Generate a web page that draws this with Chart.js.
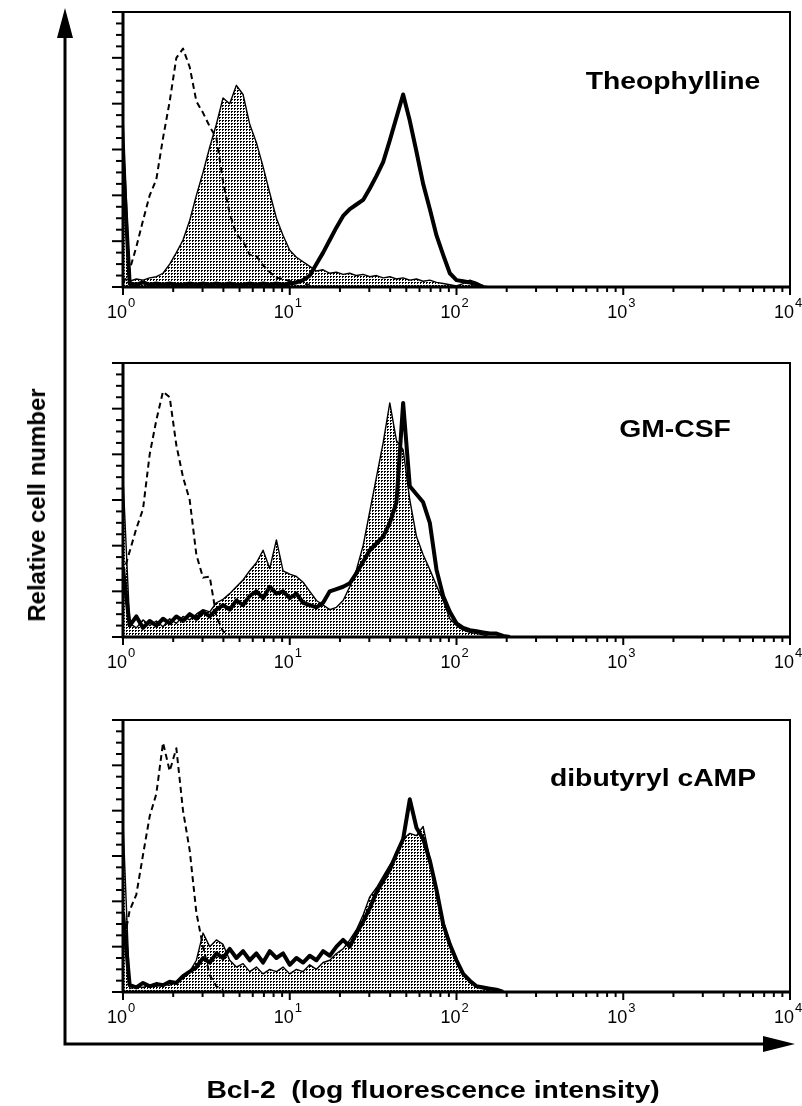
<!DOCTYPE html>
<html>
<head>
<meta charset="utf-8">
<title>Bcl-2 histograms</title>
<script src="https://cdn.jsdelivr.net/npm/chart.js@4.4.1/dist/chart.umd.min.js"></script>
<style>
  body { margin: 0; background: #fff; }
  #page { position: relative; width: 802px; height: 1106px; overflow: hidden;
          font-family: "Liberation Sans", Arial, Helvetica, sans-serif; }
  #page canvas { position: absolute; left: 0; top: 0; }
  .lbl { position: absolute; font-weight: bold; font-size: 24px; line-height: 1;
         color: #000; white-space: pre; transform: translate(-50%, -50%) scaleX(1.18); }
  .ylbl { transform: translate(-50%, -50%) rotate(-90deg); }
</style>
</head>
<body>
<div id="page">
  <canvas id="p1" width="802" height="1106"></canvas>
  <canvas id="p2" width="802" height="1106"></canvas>
  <canvas id="p3" width="802" height="1106"></canvas>
  <div class="lbl" style="left:673px;top:81px">Theophylline</div>
  <div class="lbl" style="left:675px;top:429px">GM-CSF</div>
  <div class="lbl" style="left:653px;top:778px">dibutyryl cAMP</div>
  <div class="lbl ylbl" style="left:37px;top:505px">Relative cell number</div>
  <div class="lbl" style="left:433px;top:1090px">Bcl-2  (log fluorescence intensity)</div>
</div>
<script>
// channel bins: each step is 0.04 log10 units, starting at 10^0
const BIN_WIDTH = 0.04;

// axis ticks
const xDecades = [0, 1, 2, 3, 4];
const xMinorSteps = [2, 3, 4, 5, 6, 7, 8, 9];
const yMax = 240;
const yStep = 10;
const yMajor = 40;

// Theophylline panel
const theoIsotype = [3, 15, 35, 58, 80, 94, 130, 162, 200, 208, 192, 162, 152, 140, 130, 92, 64, 46, 40, 28, 27, 19, 13, 8, 7, 5, 5, 3, 2];
const theoBold = [110, 3, 2, 4, 2, 3, 2, 3, 2, 2, 3, 2, 3, 2, 3, 2, 3, 2, 2, 3, 2, 3, 2, 3, 2, 3, 4, 6,
  10, 20, 30, 41, 52, 62, 68, 72, 76, 86, 97, 109, 128, 148, 168, 145, 118, 90, 68, 45, 28, 12, 6, 5, 4, 2, 0];
const theoFilled = [150, 5, 7, 6, 8, 9, 12, 20, 30, 41, 58, 80, 100, 122, 142, 165, 160, 176, 168, 142, 126, 105, 82, 60, 45, 32, 26, 22, 18,
  14, 15, 12, 13, 11, 12, 10, 11, 9, 10, 8, 9, 7, 8, 6, 7, 5, 6, 4, 3, 2, 1, 3, 6, 4, 1, 0];

// GM-CSF panel
const gmIsotype = [55, 75, 95, 112, 160, 190, 215, 210, 168, 140, 120, 72, 52, 53, 18, 5, 2];
const gmBold = [60, 10, 18, 8, 14, 10, 16, 12, 18, 14, 20, 16, 22, 18, 24, 28, 24, 32, 28, 36, 40, 34, 44, 38, 40, 34, 38, 30, 28, 26,
  30, 40, 42, 44, 47, 56, 66, 76, 82, 88, 100, 118, 205, 132, 125, 118, 100, 59, 36, 22, 12, 8, 6, 5, 4, 3, 3, 1, 0];
const gmFilled = [140, 12, 8, 15, 10, 14, 9, 16, 12, 18, 15, 20, 24, 22, 30, 33, 38, 44, 50, 58, 65, 76, 60, 85, 58, 55, 53, 48, 40, 32,
  28, 24, 26, 32, 44, 59, 80, 110, 140, 170, 205, 172, 164, 120, 88, 72, 59, 45, 32, 16, 10, 6, 4, 3, 2, 0];

// dibutyryl cAMP panel
const campIsotype = [40, 72, 86, 121, 155, 175, 220, 195, 215, 160, 125, 70, 40, 15, 5, 2];
const campBold = [70, 6, 4, 8, 5, 7, 6, 9, 8, 14, 18, 22, 30, 26, 34, 30, 38, 30, 36, 28, 34, 26, 36, 30, 34, 24, 30, 26, 32, 28,
  36, 32, 40, 46, 40, 52, 62, 74, 88, 98, 108, 122, 135, 170, 145, 135, 116, 90, 60, 42, 28, 16, 10, 5, 4, 3, 2, 0];
const campFilled = [150, 3, 5, 4, 6, 5, 7, 6, 9, 12, 18, 28, 52, 40, 46, 42, 28, 22, 25, 18, 22, 16, 20, 18, 22, 16, 20, 18, 24, 20,
  26, 28, 34, 38, 46, 55, 68, 84, 92, 102, 112, 122, 135, 140, 138, 146, 118, 92, 62, 44, 28, 16, 8, 5, 3, 1, 0];

const PAGE_H = 1106;

// where each panel's plot box sits on the page
const panels = [
  { canvas: "p1", top: 12, bottom: 287, series: [theoIsotype, theoBold, theoFilled] },
  { canvas: "p2", top: 363, bottom: 637, series: [gmIsotype, gmBold, gmFilled] },
  { canvas: "p3", top: 720, bottom: 992, series: [campIsotype, campBold, campFilled] },
];

function toPoints(counts) {
  return counts.map((c, i) => ({ x: Math.pow(10, i * BIN_WIDTH), y: c }));
}

// dotted fill like the printed stipple
function stipple() {
  const c = document.createElement("canvas");
  c.width = 3; c.height = 3;
  const g = c.getContext("2d");
  g.fillStyle = "#fff"; g.fillRect(0, 0, 3, 3);
  g.fillStyle = "#000";
  g.fillRect(0, 0, 2, 1);
  g.fillRect(0, 1, 1, 1);
  return g.createPattern(c, "repeat");
}

// box, ticks and 10^n labels of one panel
const frame = {
  id: "frame",
  afterDraw(chart) {
    const { ctx, chartArea: a, scales: { x, y } } = chart;
    ctx.save();
    ctx.strokeStyle = "#000";
    ctx.fillStyle = "#000";

    ctx.lineWidth = 2;
    ctx.beginPath();
    ctx.moveTo(a.left, a.top);
    ctx.lineTo(a.right, a.top);
    ctx.lineTo(a.right, a.bottom);
    ctx.stroke();

    ctx.lineWidth = 3;
    ctx.beginPath();
    ctx.moveTo(a.left, a.top - 1);
    ctx.lineTo(a.left, a.bottom);
    ctx.lineTo(a.right + 1, a.bottom);
    ctx.stroke();

    // y ticks
    ctx.lineWidth = 2;
    for (let v = 0; v <= yMax; v += yStep) {
      const py = y.getPixelForValue(v);
      const len = v % yMajor === 0 ? 11 : 7;
      ctx.beginPath();
      ctx.moveTo(a.left - len, py);
      ctx.lineTo(a.left, py);
      ctx.stroke();
    }

    // x ticks and labels
    xDecades.forEach((d) => {
      const px = x.getPixelForValue(Math.pow(10, d));
      ctx.beginPath();
      ctx.moveTo(px, a.bottom);
      ctx.lineTo(px, a.bottom + 8);
      ctx.stroke();
      if (d < xDecades[xDecades.length - 1]) {
        xMinorSteps.forEach((m) => {
          const mx = x.getPixelForValue(m * Math.pow(10, d));
          ctx.beginPath();
          ctx.moveTo(mx, a.bottom);
          ctx.lineTo(mx, a.bottom + 5);
          ctx.stroke();
        });
      }
      ctx.save();
      ctx.translate(px + 4, a.bottom + 31);
      ctx.font = '18px "Liberation Sans", Arial, sans-serif';
      ctx.textAlign = "right";
      ctx.textBaseline = "alphabetic";
      ctx.fillText("10", 0, 0);
      ctx.font = '13px "Liberation Sans", Arial, sans-serif';
      ctx.textAlign = "left";
      ctx.fillText(String(d), 1, -11);
      ctx.restore();
    });
    ctx.restore();
  },
};

// the long arrows along the left and bottom of the figure
const pageAxes = {
  id: "pageAxes",
  afterDraw(chart) {
    const ctx = chart.ctx;
    ctx.save();
    ctx.strokeStyle = "#000";
    ctx.fillStyle = "#000";
    ctx.lineWidth = 3;
    ctx.beginPath();
    ctx.moveTo(65, 34);
    ctx.lineTo(65, 1044);
    ctx.lineTo(770, 1044);
    ctx.stroke();
    ctx.beginPath();
    ctx.moveTo(65, 8); ctx.lineTo(57, 38); ctx.lineTo(73, 38); ctx.closePath();
    ctx.fill();
    ctx.beginPath();
    ctx.moveTo(795, 1044); ctx.lineTo(763, 1036); ctx.lineTo(763, 1052); ctx.closePath();
    ctx.fill();
    ctx.restore();
  },
};

panels.forEach((p, idx) => {
  const [iso, bold, filled] = p.series;
  new Chart(document.getElementById(p.canvas), {
    type: "line",
    data: {
      datasets: [
        { data: toPoints(iso), borderColor: "#000", borderWidth: 2, borderDash: [6, 4], fill: false },
        { data: toPoints(bold), borderColor: "#000", borderWidth: 4, fill: false },
        { data: toPoints(filled), borderColor: "#000", borderWidth: 1.4, fill: "origin", backgroundColor: stipple() },
      ],
    },
    options: {
      responsive: false,
      animation: false,
      events: [],
      layout: { padding: { left: 123, right: 12, top: p.top, bottom: PAGE_H - p.bottom } },
      elements: { point: { radius: 0 }, line: { tension: 0, borderJoinStyle: "round" } },
      scales: {
        x: { type: "logarithmic", min: 1, max: 10000, display: false },
        y: { type: "linear", min: 0, max: yMax, display: false },
      },
      plugins: { legend: { display: false }, tooltip: { enabled: false } },
    },
    plugins: idx === 2 ? [frame, pageAxes] : [frame],
  });
});
</script>
</body>
</html>
